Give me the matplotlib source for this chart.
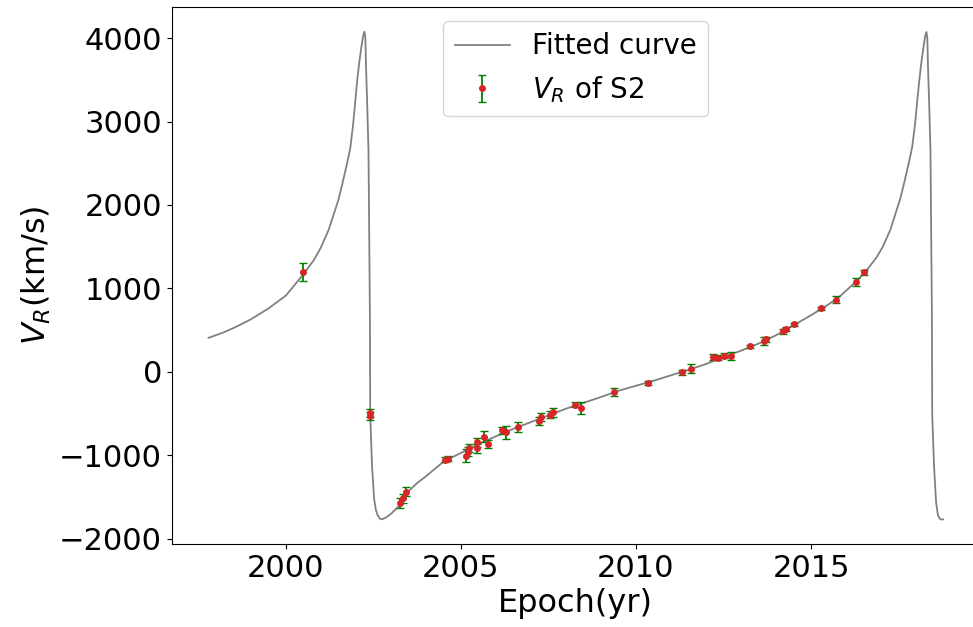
import matplotlib
matplotlib.use("Agg")
import matplotlib.pyplot as plt

# fitted curve
curve_t = [1997.79, 1998.2, 1998.6, 1999.0, 1999.5, 2000.0, 2000.5, 2000.8, 2001.0,
           2001.22, 2001.5, 2001.6, 2001.75, 2001.84, 2001.92, 2001.98, 2002.04,
           2002.10, 2002.16, 2002.21, 2002.245, 2002.27, 2002.29, 2002.32, 2002.36,
           2002.38, 2002.40, 2002.41, 2002.46, 2002.52, 2002.57, 2002.62, 2002.68,
           2002.74, 2002.85, 2003.0, 2003.26, 2003.5, 2003.75, 2004.0, 2004.5,
           2005.0, 2005.5, 2006.0, 2006.5, 2007.0, 2007.5, 2008.0, 2008.5, 2009.0,
           2009.5, 2010.0, 2010.5, 2011.0, 2011.5, 2012.0, 2012.5, 2013.0, 2013.5,
           2014.0, 2014.5, 2015.0, 2015.5, 2015.82, 2016.28, 2016.54, 2016.85,
           2017.05, 2017.27, 2017.55, 2017.65, 2017.80, 2017.89, 2017.97, 2018.03,
           2018.09, 2018.15, 2018.21, 2018.26, 2018.295, 2018.32, 2018.34, 2018.37,
           2018.41, 2018.43, 2018.45, 2018.46, 2018.51, 2018.57, 2018.62, 2018.67,
           2018.72, 2018.77]
curve_v = [409, 470, 545, 630, 760, 915, 1170, 1340, 1490,
           1700, 2060, 2230, 2500, 2680, 2960, 3230, 3500,
           3720, 3900, 4030, 4076, 4010, 3655, 3255, 2654,
           1692, 700, -510, -1113, -1515, -1650, -1715, -1755,
           -1765, -1745, -1700, -1594, -1430, -1330, -1250, -1075,
           -970, -865, -770, -680, -600, -520, -440, -370, -300,
           -225, -165, -105, -40, 25, 95, 180, 255, 340,
           440, 560, 680, 810, 905, 1080, 1195, 1360,
           1500, 1710, 2080, 2250, 2520, 2700, 2970, 3240,
           3490, 3710, 3890, 4025, 4072, 4000, 3650, 3250,
           2650, 1690, 700, -510, -1113, -1560, -1710, -1755,
           -1768, -1765]

# measured radial velocities of S2
obs_t = [2000.49, 2002.40, 2002.41, 2003.26, 2003.34, 2003.43, 2004.55, 2004.64,
         2005.15, 2005.20, 2005.22, 2005.45, 2005.45, 2005.67, 2005.77, 2006.18,
         2006.29, 2006.62, 2007.22, 2007.29, 2007.54, 2007.64, 2008.25, 2008.43,
         2009.38, 2010.35, 2011.32, 2011.57, 2012.21, 2012.33, 2012.50, 2012.70,
         2013.26, 2013.66, 2013.71, 2014.19, 2014.27, 2014.51, 2015.29, 2015.71,
         2016.28, 2016.52]
obs_v = [1195, -490, -530, -1575, -1515, -1434, -1053, -1041,
         -1001, -953, -913, -913, -841, -773, -861, -697,
         -721, -661, -584, -537, -512, -485, -392, -433,
         -240, -136, -4, 41, 180, 168, 197, 189,
         309, 369, 389, 489, 517, 569, 762, 866,
         1078, 1195]
obs_err = [110, 45, 45, 60, 55, 55, 30, 30,
           76, 50, 50, 55, 55, 66, 50, 40,
           76, 60, 50, 50, 40, 50, 30, 70,
           45, 25, 30, 55, 35, 30, 30, 45,
           20, 45, 30, 30, 25, 20, 20, 45,
           45, 30]

fig = plt.figure(figsize=(9.73, 6.27), dpi=100)
ax = fig.add_axes([0.1765, 0.1324, 0.8305, 0.856])

ax.plot(curve_t, curve_v, color='gray', linewidth=1.3, label='Fitted curve')
ax.errorbar(obs_t, obs_v, yerr=obs_err, fmt='o', color='tab:red', ecolor='green',
            markersize=4, elinewidth=1.3, capsize=3, label='$V_R$ of S2')

ax.set_xlabel('Epoch(yr)', fontsize=23)
ax.set_ylabel('$V_R$(km/s)', fontsize=23)
ax.tick_params(labelsize=22)
ax.legend(loc='upper center', fontsize=20)

fig.savefig('out.png', dpi=100)
